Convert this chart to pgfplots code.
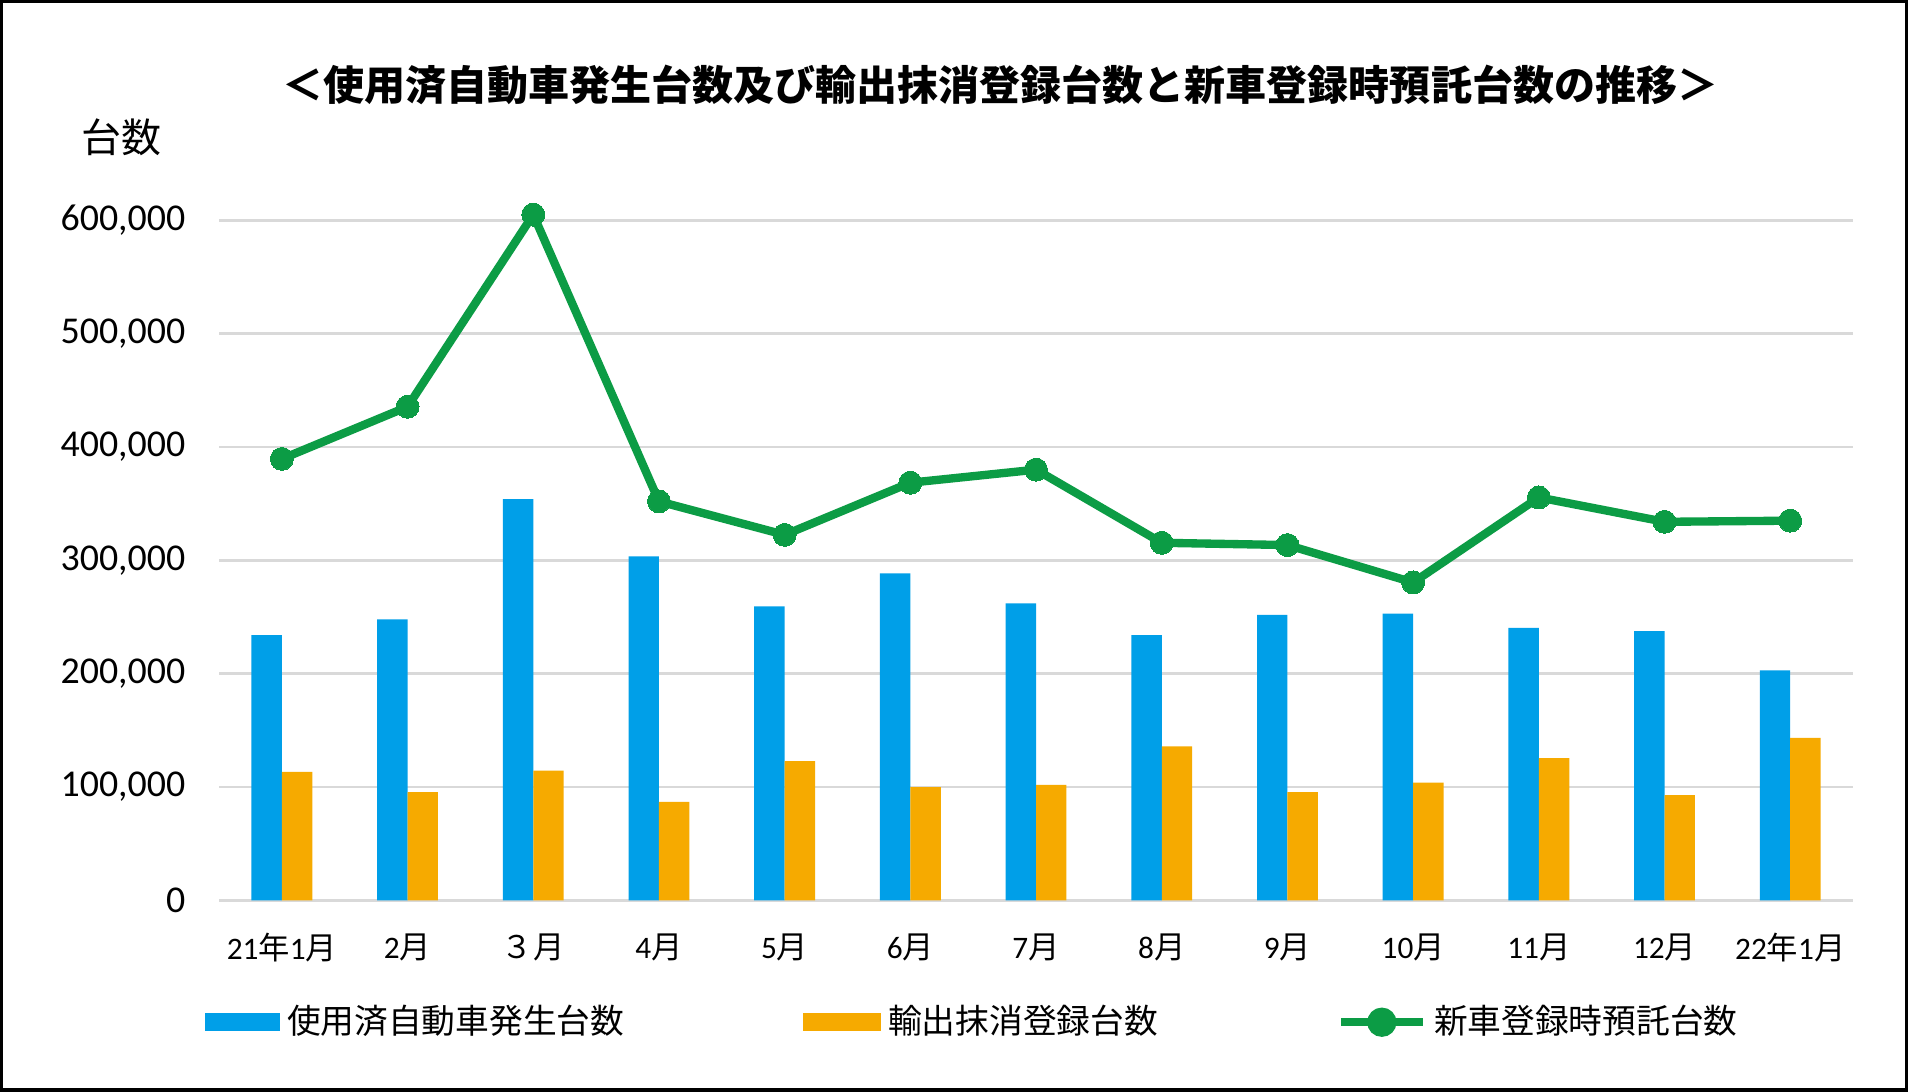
\documentclass[border=0pt]{standalone}
\usepackage{fontspec}
\setmainfont{Carlito}
\newfontfamily\cjk{Noto Sans CJK JP}
\usepackage{pgfplots}
\pgfplotsset{compat=1.18}
\definecolor{blueC}{HTML}{009FE8}
\definecolor{orangeC}{HTML}{F6AA00}
\definecolor{greenC}{HTML}{0C9C45}
\definecolor{gridC}{HTML}{D9D9D9}
\newcommand\Y{{\cjk 年}}
\newcommand\M{{\cjk 月}}
\begin{document}
\begin{tikzpicture}
\useasboundingbox (0,0) rectangle (548.8pt,313.95pt);
\fill[white] (0,0) rectangle (548.8pt,313.95pt);
\draw[line width=1pt] (0.5pt,0.5pt) rectangle (548.3pt,313.45pt);
\node[font=\cjk\bfseries\fontsize{11.8}{13}\selectfont] at (287.7pt,289.45pt) {＜使用済自動車発生台数及び輸出抹消登録台数と新車登録時預託台数の推移＞};
\node[font=\cjk\fontsize{11.5}{13}\selectfont] at (35pt,274.4pt) {台数};
\begin{axis}[
  at={(63pt,54.95pt)}, anchor=south west,
  scale only axis, width=470pt, height=195.65pt,
  xmin=-0.5, xmax=12.5, ymin=0, ymax=600000,
  clip=false,
  axis line style={draw=none},
  xtick={0,...,12},
  xticklabels={21\Y1\M, 2\M, {\cjk ３月}, 4\M, 5\M, 6\M, 7\M, 8\M, 9\M, 10\M, 11\M, 12\M, 22\Y1\M},
  xtick style={draw=none},
  xticklabel style={font=\fontsize{9}{10}\selectfont, anchor=center, inner sep=0pt, yshift=-13.6pt},
  ytick={0,100000,...,600000},
  ytick style={draw=none},
  scaled y ticks=false,
  /pgf/number format/assume math mode=true,
  yticklabel style={font=\fontsize{10.9}{12}\selectfont, anchor=east, inner sep=0pt, xshift=-9.5pt, /pgf/number format/.cd, fixed, 1000 sep={,}},
  ymajorgrids, grid style={draw=gridC, line width=0.8pt},
  legend columns=3,
  legend style={draw=none, fill=none, at={(-0.009,-0.179)}, anchor=west, inner sep=0pt,
    font=\cjk\fontsize{9.7}{11}\selectfont,
    /tikz/every even column/.append style={column sep=49.5pt}},
  legend cell align=left,
]
\addplot[ybar, bar width=8.75pt, bar shift=-4.375pt, fill=blueC, draw=none,
  legend image code/.code={\fill[blueC] (0pt,-2.6pt) rectangle (21.6pt,2.6pt);}]
  coordinates {(0,234000) (1,248000) (2,354000) (3,303500) (4,259500) (5,288500) (6,262000) (7,234000) (8,252000) (9,253000) (10,240500) (11,237500) (12,203000)};
\addlegendentry{使用済自動車発生台数}
\addplot[ybar, bar width=8.75pt, bar shift=4.375pt, fill=orangeC, draw=none,
  legend image code/.code={\fill[orangeC] (0pt,-2.6pt) rectangle (22.4pt,2.6pt);}]
  coordinates {(0,113500) (1,95500) (2,114500) (3,87000) (4,123000) (5,100000) (6,102000) (7,136000) (8,95500) (9,104000) (10,125500) (11,93000) (12,143500)};
\addlegendentry{輸出抹消登録台数}
\addplot[color=greenC, line width=2.4pt, mark=*, mark size=3.3pt, mark options={solid, fill=greenC, line width=0pt},
  legend image code/.code={\draw[greenC, line width=2.4pt] (0pt,0pt) -- (23.5pt,0pt); \fill[greenC] (11.7pt,0pt) circle (3pt);}]
  coordinates {(0,389500) (1,435500) (2,605000) (3,352000) (4,322500) (5,368500) (6,380000) (7,315500) (8,313500) (9,280500) (10,355500) (11,334000) (12,335000)};
\addlegendentry{新車登録時預託台数}
\end{axis}
\end{tikzpicture}
\end{document}
